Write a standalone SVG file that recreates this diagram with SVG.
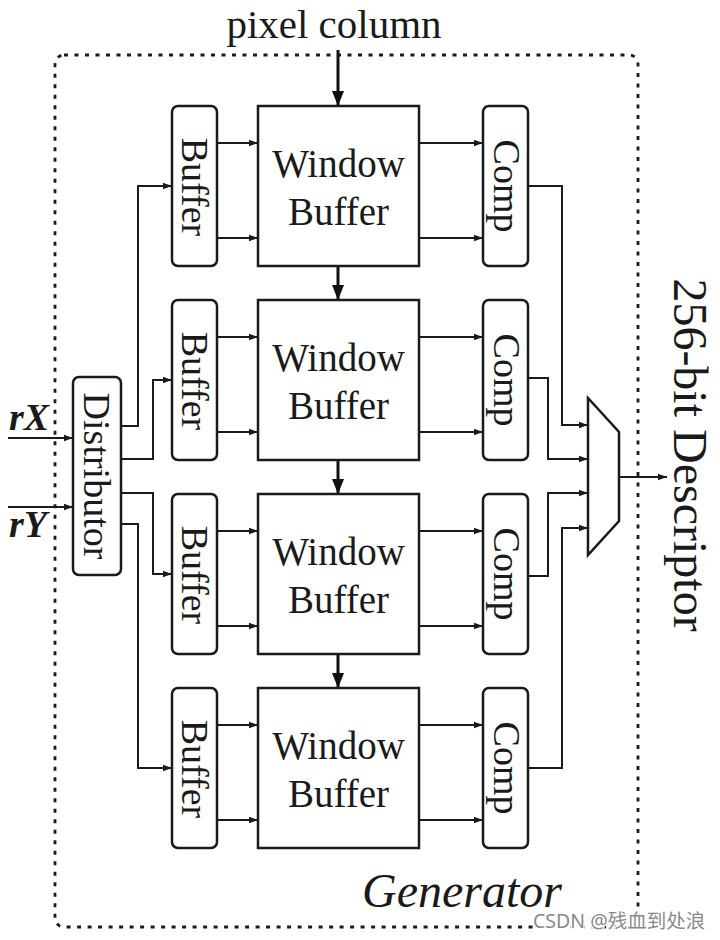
<svg xmlns="http://www.w3.org/2000/svg" width="720" height="940" viewBox="0 0 720 940">
<style>
.bg{fill:#fff}
.box{fill:#fff;stroke:#1a1a1a;stroke-width:2.5}
.frame{fill:none;stroke:#1a1a1a;stroke-width:2.8;stroke-dasharray:4 6.5}
.wire{fill:none;stroke:#1a1a1a;stroke-width:2}
.thick{fill:none;stroke:#111;stroke-width:3}
.t{font-family:"Liberation Serif","Times New Roman",serif;fill:#1a1a1a}
.lbl{font-size:39px;text-anchor:middle}
.vl{font-size:38px;text-anchor:middle}
.wm{font-family:"Noto Sans","Noto Sans CJK SC",sans-serif;font-size:19.5px;fill:#8a8a8a;stroke:#fff;stroke-width:3;paint-order:stroke}
</style>
<defs>
<marker id="a" markerUnits="userSpaceOnUse" markerWidth="10" markerHeight="8" refX="9" refY="4" orient="auto"><path d="M0,0.8 L9,4 L0,7.2 Z" fill="#1a1a1a"/></marker>
<marker id="A" markerUnits="userSpaceOnUse" markerWidth="16" markerHeight="12" refX="15" refY="6" orient="auto"><path d="M0,0 L15,6 L0,12 Z" fill="#111"/></marker>
</defs>
<rect class="bg" x="0" y="0" width="720" height="940"/>
<rect class="frame" x="55" y="55" width="583" height="872" rx="9"/>

<g id="connectors">
<path class="thick" d="M338,50 V106" marker-end="url(#A)"/>
<path class="thick" d="M338,266 V300" marker-end="url(#A)"/>
<path class="thick" d="M338,460 V494" marker-end="url(#A)"/>
<path class="thick" d="M338,654 V688" marker-end="url(#A)"/>
<path class="wire" d="M8,438 H73" marker-end="url(#a)"/>
<path class="wire" d="M8,507 H73" marker-end="url(#a)"/>
<path class="wire" d="M121,426 H138 V186 H172" marker-end="url(#a)"/>
<path class="wire" d="M121,459 H153 V380 H172" marker-end="url(#a)"/>
<path class="wire" d="M121,493 H153 V574 H172" marker-end="url(#a)"/>
<path class="wire" d="M121,524 H138 V768 H172" marker-end="url(#a)"/>
<path class="wire" d="M217,143 H258" marker-end="url(#a)"/>
<path class="wire" d="M217,238 H258" marker-end="url(#a)"/>
<path class="wire" d="M217,337 H258" marker-end="url(#a)"/>
<path class="wire" d="M217,432 H258" marker-end="url(#a)"/>
<path class="wire" d="M217,531 H258" marker-end="url(#a)"/>
<path class="wire" d="M217,626 H258" marker-end="url(#a)"/>
<path class="wire" d="M217,725 H258" marker-end="url(#a)"/>
<path class="wire" d="M217,820 H258" marker-end="url(#a)"/>
<path class="wire" d="M419,143 H483" marker-end="url(#a)"/>
<path class="wire" d="M419,238 H483" marker-end="url(#a)"/>
<path class="wire" d="M419,337 H483" marker-end="url(#a)"/>
<path class="wire" d="M419,432 H483" marker-end="url(#a)"/>
<path class="wire" d="M419,531 H483" marker-end="url(#a)"/>
<path class="wire" d="M419,626 H483" marker-end="url(#a)"/>
<path class="wire" d="M419,725 H483" marker-end="url(#a)"/>
<path class="wire" d="M419,820 H483" marker-end="url(#a)"/>
<path class="wire" d="M528,186 H562 V425 H588" marker-end="url(#a)"/>
<path class="wire" d="M528,378 H548 V459 H588" marker-end="url(#a)"/>
<path class="wire" d="M528,576 H548 V493 H588" marker-end="url(#a)"/>
<path class="wire" d="M528,768 H562 V528 H588" marker-end="url(#a)"/>
<path class="wire" d="M619,477 H667" marker-end="url(#a)"/>
</g>

<g id="distributor">
<rect class="box" x="73" y="377" width="48" height="198" rx="6"/>
<text class="t vl" transform="translate(97,476) rotate(90)" y="13">Distributor</text>
</g>

<g id="buffer1"><rect class="box" x="172" y="106" width="45" height="160" rx="6"/><text class="t vl" transform="translate(194.5,187) rotate(90)" y="13">Buffer</text></g>
<g id="buffer2"><rect class="box" x="172" y="300" width="45" height="160" rx="6"/><text class="t vl" transform="translate(194.5,381) rotate(90)" y="13">Buffer</text></g>
<g id="buffer3"><rect class="box" x="172" y="494" width="45" height="160" rx="6"/><text class="t vl" transform="translate(194.5,575) rotate(90)" y="13">Buffer</text></g>
<g id="buffer4"><rect class="box" x="172" y="688" width="45" height="160" rx="6"/><text class="t vl" transform="translate(194.5,769) rotate(90)" y="13">Buffer</text></g>

<g id="window1"><rect class="box" x="258" y="106" width="161" height="160"/><text class="t lbl" x="338.5" y="177">Window</text><text class="t lbl" x="338.5" y="225">Buffer</text></g>
<g id="window2"><rect class="box" x="258" y="300" width="161" height="160"/><text class="t lbl" x="338.5" y="371">Window</text><text class="t lbl" x="338.5" y="419">Buffer</text></g>
<g id="window3"><rect class="box" x="258" y="494" width="161" height="160"/><text class="t lbl" x="338.5" y="565">Window</text><text class="t lbl" x="338.5" y="613">Buffer</text></g>
<g id="window4"><rect class="box" x="258" y="688" width="161" height="160"/><text class="t lbl" x="338.5" y="759">Window</text><text class="t lbl" x="338.5" y="807">Buffer</text></g>

<g id="comp1"><rect class="box" x="483" y="106" width="45" height="160" rx="6"/><text class="t vl" transform="translate(506,186) rotate(90)" y="12">Comp</text></g>
<g id="comp2"><rect class="box" x="483" y="300" width="45" height="160" rx="6"/><text class="t vl" transform="translate(506,380) rotate(90)" y="12">Comp</text></g>
<g id="comp3"><rect class="box" x="483" y="494" width="45" height="160" rx="6"/><text class="t vl" transform="translate(506,574) rotate(90)" y="12">Comp</text></g>
<g id="comp4"><rect class="box" x="483" y="688" width="45" height="160" rx="6"/><text class="t vl" transform="translate(506,768) rotate(90)" y="12">Comp</text></g>

<g id="mux"><polygon class="box" points="588,398 619,432 619,521 588,555"/></g>

<g id="labels">
<text class="t" x="334" y="38" font-size="41" text-anchor="middle">pixel column</text>
<text class="t" transform="translate(674,455) rotate(90)" font-size="48" text-anchor="middle">256-bit Descriptor</text>
<text class="t" x="362" y="907" font-size="48" font-style="italic">Generator</text>
<text class="t" x="9" y="430" font-size="38" font-weight="bold" font-style="italic">rX</text>
<text class="t" x="9" y="537" font-size="38" font-weight="bold" font-style="italic">rY</text>
<text class="wm" x="533" y="928">CSDN @残血到处浪</text>
</g>
</svg>
